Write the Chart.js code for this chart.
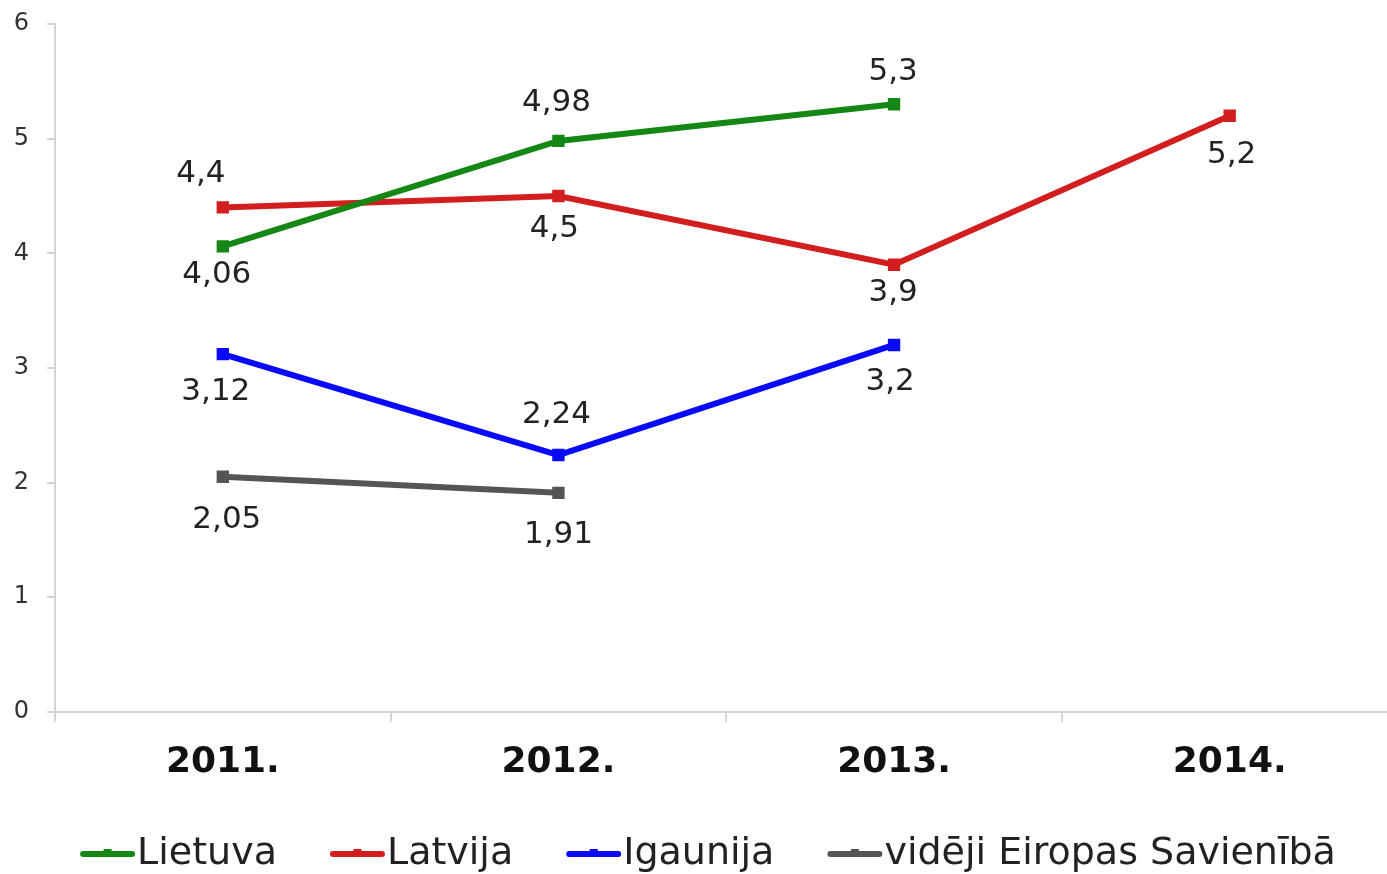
<!DOCTYPE html>
<html>
<head>
<meta charset="utf-8">
<script src="https://cdn.jsdelivr.net/npm/chart.js@4/dist/chart.umd.min.js"></script>
<style>
  html, body { margin: 0; padding: 0; background: #fff; overflow: hidden; }
  .wrap { width: 1408px; height: 874px; }
</style>
</head>
<body>
<div class="wrap"><canvas id="myLineChart"></canvas></div>
<script>
  const years = ['2011.', '2012.', '2013.', '2014.'];
  const lietuva = [4.06, 4.98, 5.3, null];
  const latvija = [4.4, 4.5, 3.9, 5.2];
  const igaunija = [3.12, 2.24, 3.2, null];
  const eiropa = [2.05, 1.91, null, null];
  const yTicks = [0, 1, 2, 3, 4, 5, 6];

  // value label shift from its point, [dx, dy] in px
  const labelShift = [
    [[-6, 29], [-2, -38], [-1, -32], null],
    [[-22, -33], [-4, 33], [-1, 28], [2, 39]],
    [[-7, 38], [-2, -40], [-4, 37], null],
    [[4, 43], [0, 42], null, null]
  ];

  const valueLabels = {
    id: 'valueLabels',
    afterDatasetsDraw(chart) {
      const ctx = chart.ctx;
      ctx.save();
      ctx.font = '31px "DejaVu Sans"';
      ctx.fillStyle = '#222';
      ctx.textAlign = 'center';
      ctx.textBaseline = 'middle';
      chart.data.datasets.forEach(function(ds, i) {
        chart.getDatasetMeta(i).data.forEach(function(pt, j) {
          const v = ds.data[j];
          if (v === null) return;
          const s = labelShift[i][j];
          ctx.fillText(String(v).replace('.', ','), pt.x + s[0], pt.y + s[1]);
        });
      });
      ctx.restore();
    }
  };

  // legend like the original: line with a small marker, text right after it
  const lineLegend = {
    id: 'lineLegend',
    afterDraw(chart) {
      const ctx = chart.ctx;
      const y = 854;
      const lineW = 55, gapText = 2, gapItem = 53;
      ctx.save();
      ctx.font = '38px "DejaVu Sans"';
      ctx.textBaseline = 'middle';
      const items = chart.data.datasets.map(function(ds) {
        return { text: ds.label, color: ds.borderColor, w: ctx.measureText(ds.label).width };
      });
      let total = 0;
      items.forEach(function(it, k) {
        total += lineW + gapText + it.w + (k < items.length - 1 ? gapItem : 0);
      });
      let x = 708 - total / 2;
      items.forEach(function(it) {
        ctx.strokeStyle = it.color;
        ctx.lineWidth = 6;
        ctx.lineCap = 'round';
        ctx.beginPath();
        ctx.moveTo(x + 3, y);
        ctx.lineTo(x + lineW - 3, y);
        ctx.stroke();
        ctx.fillStyle = it.color;
        ctx.fillRect(x + lineW / 2 - 4, y - 5, 8, 8);
        ctx.fillStyle = '#222';
        ctx.fillText(it.text, x + lineW + gapText, y);
        x += lineW + gapText + it.w + gapItem;
      });
      ctx.restore();
    }
  };

  function line(label, values, color) {
    return {
      label: label,
      data: values,
      borderColor: color,
      backgroundColor: color,
      borderWidth: 6,
      pointStyle: 'rect',
      pointRadius: 4.5,
      pointHoverRadius: 4.5,
      spanGaps: false,
      fill: false,
      tension: 0
    };
  }

  const data = {
    labels: years,
    datasets: [
      line('Lietuva', lietuva, 'rgb(20, 135, 20)'),
      line('Latvija', latvija, 'rgb(210, 30, 30)'),
      line('Igaunija', igaunija, 'rgb(10, 10, 250)'),
      line('vidēji Eiropas Savienībā', eiropa, 'rgb(85, 85, 85)')
    ]
  };

  const config = {
    type: 'line',
    data,
    options: {
      responsive: true,
      maintainAspectRatio: false,
      animation: false,
      layout: { padding: { top: 24, left: 0, right: 0, bottom: 71 } },
      scales: {
        x: {
          offset: true,
          border: { color: '#d4d4d4', width: 2 },
          grid: { display: true, drawOnChartArea: false, offset: true, tickLength: 10, color: '#d4d4d4', lineWidth: 2 },
          ticks: { color: '#111', font: { family: 'DejaVu Sans', size: 36, weight: 'bold' }, padding: 19 }
        },
        y: {
          min: 0,
          max: 6,
          border: { color: '#d4d4d4', width: 2 },
          grid: { display: true, drawOnChartArea: false, tickLength: 8, color: '#d4d4d4', lineWidth: 2 },
          afterBuildTicks: function(axis) {
            axis.ticks = yTicks.map(function(v) { return { value: v }; });
          },
          afterFit: function(axis) {
            axis.width = 55;
            axis.paddingTop = 0;
            axis.paddingBottom = 0;
          },
          ticks: { color: '#333', font: { family: 'DejaVu Sans', size: 24 }, padding: 18 }
        }
      },
      plugins: {
        legend: { display: false },
        tooltip: { enabled: false }
      }
    },
    plugins: [valueLabels, lineLegend]
  };

  var myChart = new Chart(document.getElementById('myLineChart'), config);
</script>
</body>
</html>
